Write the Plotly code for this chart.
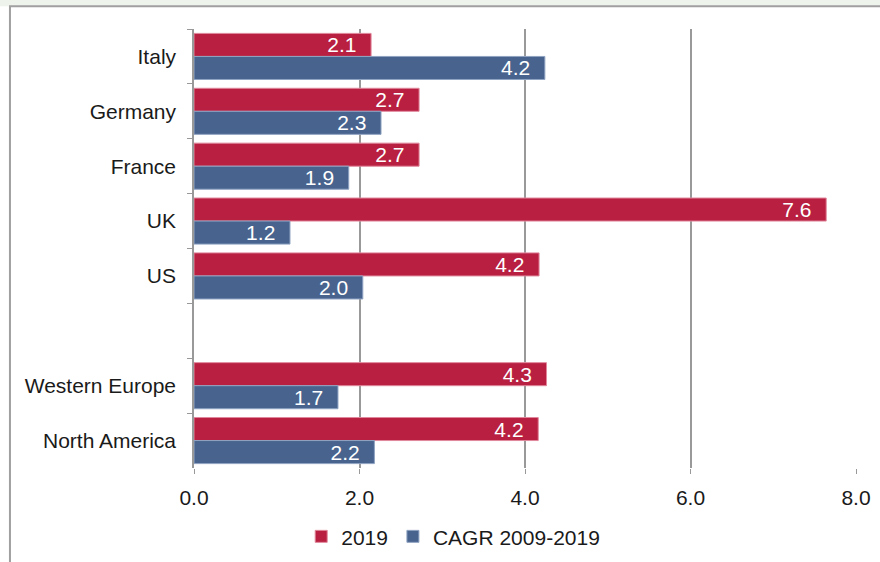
import plotly.graph_objects as go

categories = ["Italy", "Germany", "France", "UK", "US", " ", "Western Europe", "North America"]
values_2019 = [2.14, 2.72, 2.72, 7.64, 4.17, None, 4.26, 4.16]
values_cagr = [4.24, 2.26, 1.87, 1.16, 2.04, None, 1.74, 2.18]
x_ticks = [0, 2, 4, 6, 8]

RED = "#B81F40"
BLUE = "#48648E"
FONT = "Liberation Sans, Arial, sans-serif"

fig = go.Figure()
for name, vals, col, edge in [("2019", values_2019, RED, "#E0889C"),
                              ("CAGR 2009-2019", values_cagr, BLUE, "#8FA3C2")]:
    fig.add_trace(go.Bar(
        y=categories, x=vals, name=name, orientation="h",
        marker=dict(color=col, line=dict(color=edge, width=1)),
        text=[("%.1f\u00a0\u00a0" % v) if v is not None else "" for v in vals],
        textposition="inside", insidetextanchor="end",
        textfont=dict(color="white", size=21, family=FONT),
        constraintext="none", cliponaxis=False,
    ))

fig.update_layout(
    width=880, height=562,
    margin=dict(l=194, r=24, t=29, b=94, autoexpand=False),
    barmode="group", bargap=0.16, bargroupgap=0,
    paper_bgcolor="white", plot_bgcolor="white",
    font=dict(family=FONT, size=21, color="#1a1a1a"),
    legend=dict(orientation="h", x=0.515, xref="container", xanchor="center",
                y=0.045, yref="container", yanchor="middle",
                font=dict(size=21), itemwidth=30, traceorder="normal"),
    shapes=[
        dict(type="rect", xref="paper", yref="paper", x0=-0.3, x1=1.1, y0=1.052, y1=1.2,
             fillcolor="#EEF3EC", line=dict(width=0), layer="below"),
        dict(type="rect", xref="paper", yref="paper", x0=-0.278, x1=1.06, y0=-0.3, y1=1.052,
             fillcolor="rgba(0,0,0,0)", line=dict(color="#A0A0A0", width=2), layer="below"),
    ],
)
fig.update_xaxes(range=[0, 8], tickvals=x_ticks, tickformat=".1f",
                 showgrid=True, gridcolor="#999999", gridwidth=1.5,
                 showline=False, zeroline=False,
                 ticks="outside", ticklen=5, tickcolor="#999999", ticklabelstandoff=6)
fig.update_yaxes(autorange="reversed", showgrid=False, showline=True,
                 linecolor="#999999", linewidth=1.5,
                 ticks="outside", tickson="boundaries", ticklen=5, tickcolor="#999999",
                 ticklabelstandoff=12)

fig.write_html("out.html", config={"displayModeBar": False},
               post_script="document.body.style.margin='0px';")
